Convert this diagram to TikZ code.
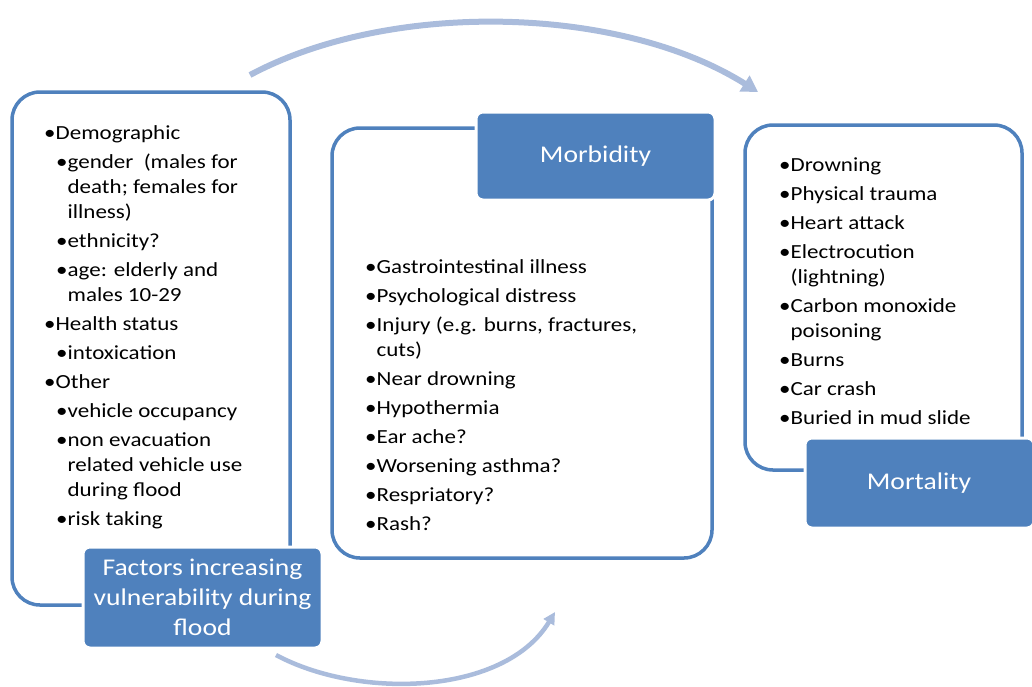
\documentclass[tikz,border=0pt]{standalone}
\usepackage{fontspec}
\setmainfont[FakeStretch=1.15]{Carlito}
\usetikzlibrary{arrows.meta}
\definecolor{boxblue}{RGB}{79,129,189}
\definecolor{arrowblue}{RGB}{170,188,220}
\newcommand{\bl}{\textbullet}
\newcommand{\ind}{\hspace*{12pt}}
\newcommand{\hang}{\hphantom{\textbullet}}
\tikzset{
  panel/.style={draw=boxblue, line width=3.5pt, rounded corners=28pt, fill=white},
  label/.style={fill=boxblue, draw=white, line width=3pt, rounded corners=7pt},
  labeltext/.style={text=white, font=\fontsize{24}{30}\selectfont, align=center},
  list/.style={anchor=north west, inner sep=0pt, align=left, font=\fontsize{20}{25}\selectfont},
  flow/.style={draw=arrowblue, line width=6pt, -{Triangle[width=18pt,length=16pt]}}
}
\begin{document}
\begin{tikzpicture}[x=1pt,y=-1pt]
\useasboundingbox (0,0) rectangle (1032,686);
% arrows
\coordinate (a1s) at (250,75);
\coordinate (a1e) at (758,92);
\draw[flow] (a1s) .. controls (390,0) and (620,5) .. (a1e);
\coordinate (a2s) at (276,655);
\coordinate (a2e) at (555,612);
\draw[flow, line width=4.5pt, -{Triangle[width=12pt,length=12pt]}] (a2s) .. controls (360,700) and (505,695) .. (a2e);
% panels
\draw[panel] (12,92) rectangle (290,605);
\draw[panel] (332,128) rectangle (712,558);
\draw[panel] (745,125) rectangle (1022,470);
% lists
\node[list] (t1) at (44,125) {%
\bl Demographic\\[4pt]
\ind\bl gender\ \ (males for\\
\ind\hang death; females for\\
\ind\hang illness)\\[4pt]
\ind\bl ethnicity?\\[4pt]
\ind\bl age: elderly and\\
\ind\hang males 10-29\\[4pt]
\bl Health status\\[4pt]
\ind\bl intoxication\\[4pt]
\bl Other\\[4pt]
\ind\bl vehicle occupancy\\[4pt]
\ind\bl non evacuation\\
\ind\hang related vehicle use\\
\ind\hang during flood\\[4pt]
\ind\bl risk taking};
\node[list] (t2) at (365,259) {%
\bl Gastrointestinal illness\\[4pt]
\bl Psychological distress\\[4pt]
\bl Injury (e.g. burns, fractures,\\
\hang cuts)\\[4pt]
\bl Near drowning\\[4pt]
\bl Hypothermia\\[4pt]
\bl Ear ache?\\[4pt]
\bl Worsening asthma?\\[4pt]
\bl Respriatory?\\[4pt]
\bl Rash?};
\node[list] (t3) at (779,158) {%
\bl Drowning\\[4pt]
\bl Physical trauma\\[4pt]
\bl Heart attack\\[4pt]
\bl Electrocution\\
\hang (lightning)\\[4pt]
\bl Carbon monoxide\\
\hang poisoning\\[4pt]
\bl Burns\\[4pt]
\bl Car crash\\[4pt]
\bl Buried in mud slide};
% labels
\path[label] (83,547) rectangle (322,648);
\node[labeltext] (l1) at (202.5,597.5) {Factors increasing\\vulnerability during\\flood};
\path[label] (476,112) rectangle (715,200);
\node[labeltext] (l2) at (595.5,156) {Morbidity};
\path[label] (805,438) rectangle (1034,528);
\node[labeltext] (l3) at (919,483) {Mortality};
\end{tikzpicture}
\end{document}
